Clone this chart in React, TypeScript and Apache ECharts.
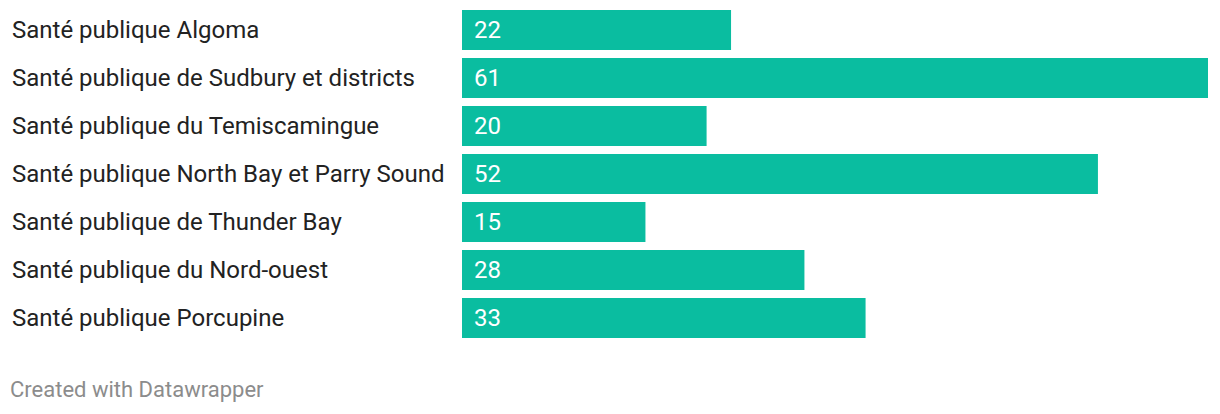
import React, { useEffect, useRef } from "react";
import * as echarts from "echarts";

const categories = [
  "Santé publique Algoma",
  "Santé publique de Sudbury et districts",
  "Santé publique du Temiscamingue",
  "Santé publique North Bay et Parry Sound",
  "Santé publique de Thunder Bay",
  "Santé publique du Nord-ouest",
  "Santé publique Porcupine",
];
const values = [22, 61, 20, 52, 15, 28, 33];
const footer = "Created with Datawrapper";

export default function App() {
  const ref = useRef<HTMLDivElement>(null);
  useEffect(() => {
    document.body.style.margin = "0";
    const chart = echarts.init(ref.current!, null, { renderer: "svg" });
    chart.setOption({
      animation: false,
      backgroundColor: "#ffffff",
      grid: { left: 462, right: 12, top: 6, height: 336, containLabel: false },
      xAxis: {
        type: "value",
        min: 0,
        max: 61,
        show: false,
      },
      yAxis: {
        type: "category",
        data: categories,
        inverse: true,
        axisLine: { show: false },
        axisTick: { show: false },
        splitLine: { show: false },
        axisLabel: {
          align: "left",
          margin: 450,
          color: "#222222",
          fontSize: 24,
          fontFamily: "Roboto",
        },
      },
      series: [
        {
          type: "bar",
          data: values,
          barWidth: 40,
          itemStyle: { color: "#0abda0" },
          label: {
            show: true,
            position: "insideLeft",
            distance: 12,
            color: "#ffffff",
            fontSize: 24,
            fontFamily: "Roboto",
          },
        },
      ],
      graphic: [
        {
          type: "text",
          left: 10,
          top: 378,
          style: {
            text: footer,
            fill: "#8c8c8c",
            fontSize: 22,
            fontFamily: "Roboto",
          },
        },
      ],
    });
    return () => chart.dispose();
  }, []);
  return <div ref={ref} style={{ width: 1220, height: 414 }} />;
}
